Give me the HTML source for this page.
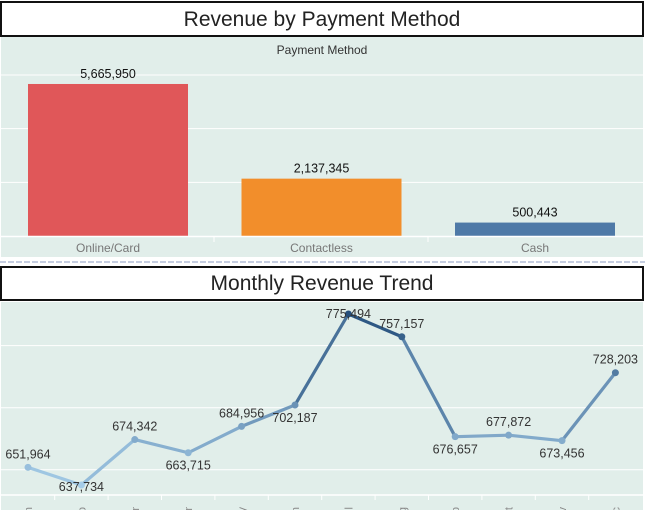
<!DOCTYPE html>
<html><head><meta charset="utf-8"><style>
body{margin:0;width:645px;height:510px;overflow:hidden;background:#fff;font-family:"Liberation Sans",sans-serif}
svg{display:block}
</style></head><body>
<svg width="645" height="510">
<rect x="1" y="2" width="642" height="34" fill="#fff" stroke="#111" stroke-width="2"/>
<text x="322" y="26" text-anchor="middle" font-size="21" fill="#222">Revenue by Payment Method</text>
<rect x="1" y="37" width="642" height="220" fill="#e1eeea"/>
<text x="322" y="54" text-anchor="middle" font-size="12" fill="#333">Payment Method</text>
<g id="topg"></g>
<line x1="0" y1="262" x2="645" y2="262" stroke="#c5cde0" stroke-width="2" stroke-dasharray="6,2"/>
<rect x="1" y="267" width="642" height="33" fill="#fff" stroke="#111" stroke-width="2"/>
<text x="322" y="290" text-anchor="middle" font-size="21" fill="#222">Monthly Revenue Trend</text>
<rect x="1" y="302" width="642" height="208" fill="#e1eeea"/>
<g id="botg"></g>
</svg>
<script>
const payCats=["Online/Card","Contactless","Cash"];
const payVals=[5665950,2137345,500443];
const payColors=["#e05759","#f28e2b","#4e79a7"];
const payTicks=[2000000,4000000,6000000];
const months=["Jan","Feb","Mar","Apr","May","Jun","Jul","Aug","Sep","Oct","Nov","Dec"];
const monthVals=[651964,637734,674342,663715,684956,702187,775494,757157,676657,677872,673456,728203];
const trendTicks=[650000,700000,750000];
const NS="http://www.w3.org/2000/svg";
function mk(p,t,a){const e=document.createElementNS(NS,t);for(const k in a)e.setAttribute(k,a[k]);p.appendChild(e);return e;}
const fmt=v=>v.toLocaleString("en-US");
const gTop=document.getElementById("topg");
const base=236, ys=v=>base-v*2.683e-5;
payTicks.forEach(t=>{const l=mk(gTop,"line",{x1:1,x2:643,y1:ys(t),y2:ys(t),stroke:"#fff","stroke-width":1});

});
payCats.forEach((c,i)=>{const cx=108+i*213.5;const y=ys(payVals[i]);
const r=mk(gTop,"rect",{x:cx-80,y:y,width:160,height:base-y,fill:payColors[i]});


const t=mk(gTop,"text",{x:cx,y:y-6,"text-anchor":"middle","font-size":12.5,fill:"#111"});t.textContent=fmt(payVals[i]);


const lb=mk(gTop,"text",{x:cx,y:252,"text-anchor":"middle","font-size":12,fill:"#777"});lb.textContent=c;

});
mk(gTop,"line",{x1:1,x2:643,y1:base+0.5,y2:base+0.5,stroke:"#fff","stroke-width":1.5});
[214,428].forEach(x=>mk(gTop,"line",{x1:x,x2:x,y1:base,y2:242,stroke:"#fff"}));
const gBot=document.getElementById("botg");
const xs=i=>28+i*53.4, yv=v=>485-(v-637734)*0.0012413;
trendTicks.forEach(t=>{const l=mk(gBot,"line",{x1:1,x2:643,y1:yv(t),y2:yv(t),stroke:"#fff","stroke-width":1});

});
mk(gBot,"line",{x1:1,x2:643,y1:495,y2:495,stroke:"#fff","stroke-width":1.5});
const mn=Math.min(...monthVals),mx=Math.max(...monthVals);
function col(v){const t=(v-mn)/(mx-mn);const a=[165,204,232],b=[38,80,125];
return "rgb("+a.map((c,k)=>Math.round(c+(b[k]-c)*t)).join(",")+")";}
for(let i=0;i<11;i++){const s=mk(gBot,"line",{x1:xs(i),y1:yv(monthVals[i]),x2:xs(i+1),y2:yv(monthVals[i+1]),stroke:col((monthVals[i]+monthVals[i+1])/2),"stroke-width":3.2,"stroke-linecap":"round"});

}
const lo=[false,true,false,true,false,true,false,false,true,false,true,false];
months.forEach((m,i)=>{const x=xs(i),y=yv(monthVals[i]);
const c=mk(gBot,"circle",{cx:x,cy:y,r:3.5,fill:col(monthVals[i])});


let ty=lo[i]?y+17:y-9;
if(i===6) ty=y+4;
if(i===1) ty=y+6;
const t=mk(gBot,"text",{x:x,y:ty,"text-anchor":"middle","font-size":12.5,fill:"#333"});t.textContent=fmt(monthVals[i]);


const ml=mk(gBot,"text",{x:0,y:0,"text-anchor":"end","font-size":11,fill:"#888",transform:"translate("+(x+4)+",507) rotate(-90)"});ml.textContent=m;


if(i<11){mk(gBot,"line",{x1:x+26.7,x2:x+26.7,y1:495,y2:500,stroke:"#fff"});}});
</script>
</body></html>
